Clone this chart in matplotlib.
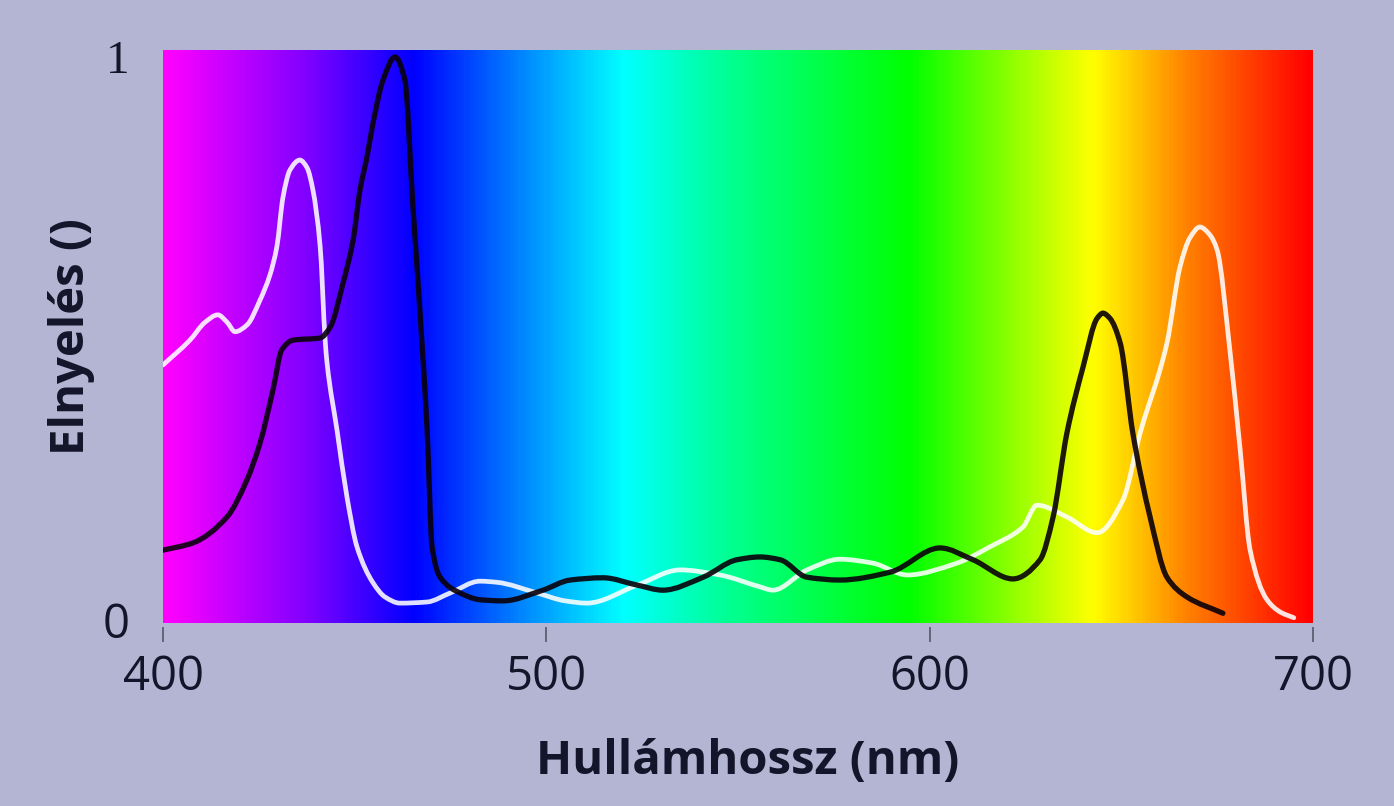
#!/usr/bin/env python3

# Absorption spectra of two pigments drawn over a visible-light colour band.

import numpy as np
import matplotlib.pyplot as plt
from matplotlib.colors import LinearSegmentedColormap
from matplotlib.path import Path
from matplotlib.patches import PathPatch

# ---------------------------------------------------------------------------
# Data
# ---------------------------------------------------------------------------

x_label = "Hullámhossz (nm)"
y_label = "Elnyelés ()"

x_ticks = [400, 500, 600, 700]

# white curve
white_nm = [400.0, 407.0, 411.0, 414.3, 416.7, 418.8, 421.9, 425.3, 427.9, 429.7,
            431.3, 433.1, 435.7, 437.6, 439.1, 441.0, 442.3, 442.8, 445.4, 448.0,
            450.6, 454.8, 457.9, 461.8, 468.9, 474.9, 482.7, 487.1, 497.6, 504.9,
            510.6, 523.7, 534.9, 545.3, 555.7, 559.1, 568.0, 576.6, 585.2, 594.1,
            607.1, 615.7, 624.3, 628.0, 635.8, 643.7, 650.4, 654.9, 661.9, 665.3,
            667.9, 670.5, 673.1, 675.0, 678.3, 681.0, 683.6, 688.0, 691.5, 695.0]
white_abs = [0.453, 0.497, 0.529, 0.542, 0.529, 0.512, 0.524, 0.568, 0.613, 0.663,
             0.751, 0.799, 0.817, 0.803, 0.764, 0.663, 0.497, 0.456, 0.337, 0.218,
             0.130, 0.066, 0.041, 0.030, 0.032, 0.048, 0.069, 0.067, 0.048, 0.034,
             0.030, 0.062, 0.089, 0.080, 0.059, 0.053, 0.089, 0.108, 0.101, 0.080,
             0.101, 0.130, 0.165, 0.204, 0.183, 0.155, 0.213, 0.332, 0.492, 0.627,
             0.679, 0.698, 0.684, 0.657, 0.480, 0.302, 0.124, 0.036, 0.014, 0.004]

# black curve
black_nm = [400.0, 407.8, 416.7, 421.9, 425.3, 428.7, 431.0, 433.9, 441.0, 443.6,
            447.0, 449.6, 451.4, 453.2, 454.8, 457.4, 460.5, 463.1, 465.2, 467.8,
            468.9, 470.2, 472.3, 477.5, 482.7, 488.7, 499.1, 506.2, 514.8, 523.7,
            530.4, 540.9, 549.7, 555.7, 561.0, 568.0, 576.6, 589.7, 602.7, 611.3,
            621.7, 628.8, 632.2, 635.8, 640.0, 643.7, 645.2, 647.0, 649.7, 653.0,
            657.5, 661.9, 667.1, 676.5]
black_abs = [0.124, 0.137, 0.183, 0.249, 0.314, 0.409, 0.480, 0.497, 0.501, 0.520,
             0.599, 0.675, 0.764, 0.822, 0.883, 0.959, 1.000, 0.959, 0.734, 0.467,
             0.337, 0.130, 0.076, 0.048, 0.036, 0.034, 0.053, 0.071, 0.075, 0.062,
             0.053, 0.076, 0.107, 0.112, 0.107, 0.076, 0.071, 0.085, 0.128, 0.107,
             0.073, 0.107, 0.183, 0.332, 0.449, 0.536, 0.545, 0.536, 0.492, 0.332,
             0.183, 0.076, 0.041, 0.012]

# colour stops of the spectrum band
band_nm = [400, 437, 465, 492, 520, 548, 595, 643, 668, 700]
band_colors = ["#ff00ff", "#8000ff", "#0000ff", "#0080ff", "#00ffff",
               "#00ff90", "#00ff00", "#ffff00", "#ff8000", "#ff0000"]

BG = "#b3b5d2"
TEXT = "#14142a"
YLIM = (-0.0053, 1.0124)

# ---------------------------------------------------------------------------
# Helpers
# ---------------------------------------------------------------------------

def smooth_path(xs, ys):
    """Cubic Bezier path through the points (monotone Hermite slopes)."""
    x = np.asarray(xs, float)
    y = np.asarray(ys, float)
    h = np.diff(x)
    d = np.diff(y) / h
    m = np.zeros_like(y)
    m[0], m[-1] = d[0], d[-1]
    for i in range(1, len(x) - 1):
        if d[i - 1] * d[i] > 0:
            w1 = 2 * h[i] + h[i - 1]
            w2 = h[i] + 2 * h[i - 1]
            m[i] = (w1 + w2) / (w1 / d[i - 1] + w2 / d[i])
    verts = [(x[0], y[0])]
    codes = [Path.MOVETO]
    for i in range(len(x) - 1):
        verts += [(x[i] + h[i] / 3, y[i] + m[i] * h[i] / 3),
                  (x[i + 1] - h[i] / 3, y[i + 1] - m[i + 1] * h[i] / 3),
                  (x[i + 1], y[i + 1])]
        codes += [Path.CURVE4] * 3
    return Path(verts, codes)

# ---------------------------------------------------------------------------
# Drawing
# ---------------------------------------------------------------------------

def draw_band(ax):
    lo, hi = band_nm[0], band_nm[-1]
    stops = [(n - lo) / (hi - lo) for n in band_nm]
    cmap = LinearSegmentedColormap.from_list("spectrum", list(zip(stops, band_colors)))
    grad = np.linspace(0, 1, 600).reshape(1, -1)
    ax.imshow(grad, cmap=cmap, aspect="auto", extent=(lo, hi, *YLIM),
              interpolation="bilinear", zorder=0)


def draw_curves(ax):
    ax.add_patch(PathPatch(smooth_path(white_nm, white_abs), fill=False,
                           edgecolor="white", alpha=0.88, lw=3.4,
                           joinstyle="round", capstyle="round", zorder=2))
    ax.add_patch(PathPatch(smooth_path(black_nm, black_abs), fill=False,
                           edgecolor="#0a000a", alpha=0.9, lw=3.8,
                           joinstyle="round", capstyle="round", zorder=3))


def style_axes(ax):
    ax.set_xlim(400, 700)
    ax.set_ylim(*YLIM)
    ax.set_facecolor(BG)
    for spine in ax.spines.values():
        spine.set_visible(False)
    ax.spines["bottom"].set_position(("outward", 3))

    ax.set_xticks(x_ticks)
    ax.set_xticklabels([str(t) for t in x_ticks], fontsize=34, family="Open Sans",
                       color=TEXT)
    ax.tick_params(axis="x", direction="out", length=11, width=1.2,
                   color="#555566", pad=8)

    ax.set_yticks([0, 1])
    labels = ax.set_yticklabels(["0", "1"], fontsize=34, color=TEXT)
    labels[0].set_family("Open Sans")
    labels[1].set_family("Liberation Serif")
    ax.tick_params(axis="y", length=0, pad=24)

    ax.set_xlabel(x_label, fontsize=34, fontweight="bold", family="Open Sans",
                  color=TEXT)
    ax.set_ylabel(y_label, fontsize=34, fontweight="bold", family="Open Sans",
                  color=TEXT)
    ax.xaxis.set_label_coords(0.508, -0.2)
    ax.yaxis.set_label_coords(-0.059, 0.5)

# ---------------------------------------------------------------------------
# Main
# ---------------------------------------------------------------------------

def main():
    fig = plt.figure(figsize=(13.94, 8.06), dpi=100, facecolor=BG)
    ax = fig.add_axes([163 / 1394, 1 - 623 / 806, 1150 / 1394, 573 / 806])

    draw_band(ax)
    draw_curves(ax)
    style_axes(ax)

    fig.savefig("out.png", dpi=100, facecolor=BG)


if __name__ == "__main__":
    main()
